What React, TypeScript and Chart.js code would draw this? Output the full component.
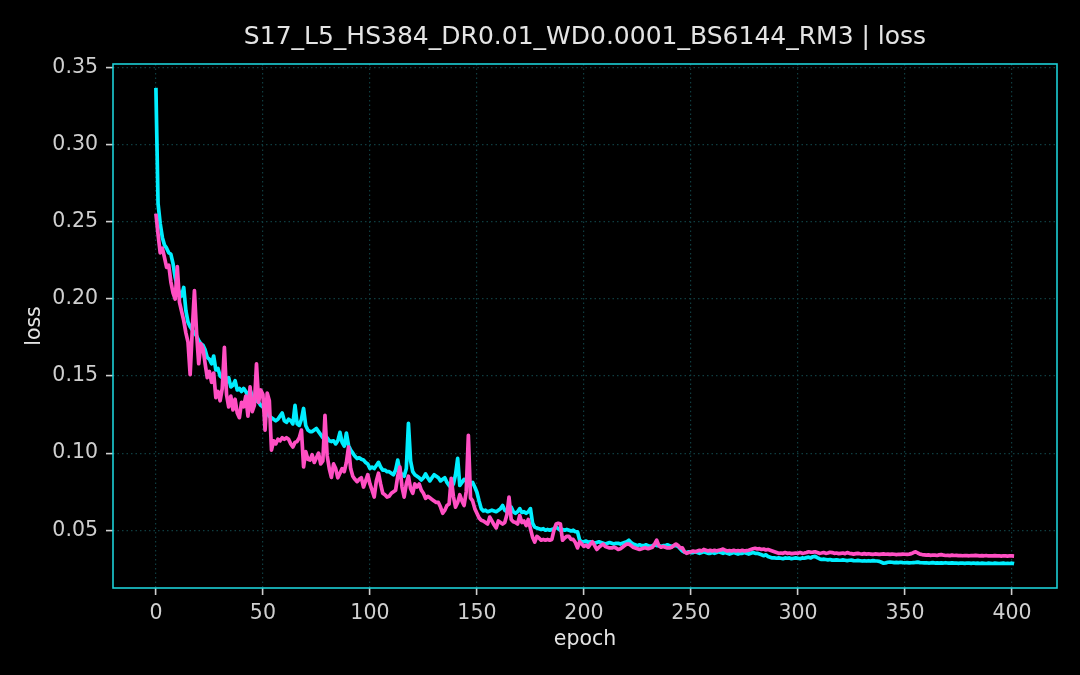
import { useEffect, useRef } from 'react';
import { Chart, registerables } from 'chart.js';

Chart.register(...registerables);

const TITLE = 'S17_L5_HS384_DR0.01_WD0.0001_BS6144_RM3 | loss';
const X_TICKS = [0, 50, 100, 150, 200, 250, 300, 350, 400];
const Y_TICKS = [0.05, 0.1, 0.15, 0.2, 0.25, 0.3, 0.35];

// cyan curve, one value per epoch (0..401)
const TRAIN_LOSS = [
  0.337, 0.262, 0.249, 0.240, 0.235, 0.233, 0.230, 0.229, 0.223, 0.214,
  0.208, 0.204, 0.202, 0.2075, 0.1925, 0.185, 0.182, 0.180, 0.178, 0.176,
  0.173, 0.171, 0.170, 0.167, 0.162, 0.161, 0.158, 0.163, 0.154, 0.155,
  0.150, 0.149, 0.147, 0.146, 0.149, 0.143, 0.144, 0.147, 0.141, 0.142,
  0.140, 0.142, 0.140, 0.137, 0.141, 0.137, 0.135, 0.134, 0.133, 0.131,
  0.130, 0.128, 0.126, 0.124, 0.123, 0.122, 0.121, 0.122, 0.124, 0.126,
  0.121, 0.120, 0.122, 0.121, 0.119, 0.131, 0.119, 0.118, 0.122, 0.129,
  0.118, 0.115, 0.114, 0.114, 0.115, 0.116, 0.114, 0.112, 0.110, 0.111,
  0.110, 0.108, 0.1075, 0.108, 0.106, 0.108, 0.1135, 0.107, 0.1045, 0.113,
  0.105, 0.102, 0.100, 0.098, 0.0965, 0.097, 0.096, 0.0955, 0.094, 0.093,
  0.090, 0.091, 0.090, 0.092, 0.094, 0.091, 0.089, 0.089, 0.088, 0.088,
  0.087, 0.086, 0.089, 0.0955, 0.088, 0.086, 0.085, 0.090, 0.1193, 0.095,
  0.088, 0.086, 0.085, 0.084, 0.0826, 0.084, 0.0865, 0.084, 0.082, 0.084,
  0.086, 0.085, 0.084, 0.082, 0.083, 0.084, 0.081, 0.079, 0.0775, 0.080,
  0.086, 0.0966, 0.079, 0.081, 0.083, 0.082, 0.081, 0.080, 0.081, 0.078,
  0.0746, 0.069, 0.064, 0.0625, 0.063, 0.062, 0.0625, 0.063, 0.0625, 0.062,
  0.063, 0.064, 0.066, 0.063, 0.062, 0.0625, 0.065, 0.062, 0.061, 0.062,
  0.064, 0.0615, 0.062, 0.061, 0.062, 0.064, 0.0545, 0.052, 0.0515, 0.051,
  0.0505, 0.051, 0.050, 0.0505, 0.050, 0.0505, 0.051, 0.052, 0.051, 0.050,
  0.0505, 0.050, 0.0505, 0.050, 0.0495, 0.050, 0.049, 0.049, 0.0435, 0.0425,
  0.0425, 0.043, 0.042, 0.0425, 0.042, 0.0415, 0.042, 0.0425, 0.042, 0.0415,
  0.041, 0.0415, 0.042, 0.0415, 0.041, 0.0415, 0.0415, 0.041, 0.0415, 0.042,
  0.0425, 0.0435, 0.042, 0.041, 0.0405, 0.040, 0.0405, 0.040, 0.040, 0.0405,
  0.040, 0.0395, 0.040, 0.0405, 0.040, 0.040, 0.0395, 0.040, 0.040, 0.0405,
  0.040, 0.0395, 0.040, 0.040, 0.0395, 0.038, 0.0365, 0.0357, 0.0355, 0.036,
  0.0355, 0.0355, 0.036, 0.0355, 0.035, 0.0355, 0.036, 0.0355, 0.035, 0.035,
  0.0355, 0.035, 0.0355, 0.036, 0.0355, 0.035, 0.0355, 0.035, 0.0345, 0.035,
  0.0355, 0.035, 0.0345, 0.035, 0.035, 0.0355, 0.035, 0.0345, 0.035, 0.0355,
  0.035, 0.035, 0.0345, 0.034, 0.0335, 0.034, 0.033, 0.0325, 0.032, 0.032,
  0.0318, 0.032, 0.0318, 0.0315, 0.032, 0.0318, 0.032, 0.0315, 0.0318, 0.032,
  0.0318, 0.0315, 0.032, 0.0318, 0.0322, 0.0325, 0.032, 0.0328, 0.033, 0.0322,
  0.0315, 0.031, 0.0312, 0.031, 0.0308, 0.031, 0.0306, 0.0306, 0.0308, 0.0306,
  0.0305, 0.0307, 0.0305, 0.0303, 0.0305, 0.0306, 0.0303, 0.0302, 0.0304, 0.0302,
  0.030, 0.0302, 0.030, 0.0302, 0.030, 0.0303, 0.0301, 0.030, 0.0298, 0.0292,
  0.0286, 0.0288, 0.0292, 0.0293, 0.0292, 0.029, 0.0291, 0.029, 0.0292, 0.029,
  0.0289, 0.029, 0.0288, 0.0289, 0.029, 0.0291, 0.0293, 0.029, 0.0289, 0.0288,
  0.0289, 0.0287, 0.0288, 0.029, 0.0287, 0.0288, 0.0286, 0.0288, 0.0287, 0.0289,
  0.0287, 0.0286, 0.0288, 0.0286, 0.0287, 0.0285, 0.0287, 0.0286, 0.0285, 0.0287,
  0.0286, 0.0285, 0.0287, 0.0285, 0.0286, 0.0284, 0.0286, 0.0285, 0.0284, 0.0286,
  0.0285, 0.0284, 0.0286, 0.0285, 0.0284, 0.0285, 0.0286, 0.0284, 0.0285, 0.0284,
  0.0286, 0.0283,
];

// pink curve, one value per epoch (0..401)
const VAL_LOSS = [
  0.2554, 0.242, 0.230, 0.233, 0.227, 0.2205, 0.222, 0.211, 0.204, 0.200,
  0.221, 0.198, 0.192, 0.186, 0.178, 0.172, 0.151, 0.180, 0.2055, 0.178,
  0.158, 0.171, 0.168, 0.158, 0.149, 0.153, 0.146, 0.152, 0.136, 0.140,
  0.134, 0.142, 0.1686, 0.138, 0.130, 0.137, 0.128, 0.135, 0.126, 0.123,
  0.133, 0.130, 0.137, 0.124, 0.143, 0.127, 0.131, 0.158, 0.133, 0.141,
  0.138, 0.115, 0.139, 0.134, 0.102, 0.108, 0.106, 0.109, 0.108, 0.110,
  0.109, 0.110, 0.109, 0.106, 0.104, 0.107, 0.1076, 0.110, 0.115, 0.091,
  0.101, 0.096, 0.0955, 0.099, 0.094, 0.097, 0.100, 0.093, 0.095, 0.1245,
  0.0985, 0.090, 0.0843, 0.093, 0.090, 0.084, 0.087, 0.090, 0.088, 0.094,
  0.104, 0.090, 0.085, 0.083, 0.0815, 0.083, 0.084, 0.078, 0.082, 0.086,
  0.080, 0.076, 0.0715, 0.082, 0.087, 0.080, 0.074, 0.073, 0.0715, 0.072,
  0.074, 0.075, 0.076, 0.085, 0.091, 0.078, 0.0715, 0.080, 0.085, 0.077,
  0.074, 0.080, 0.078, 0.080, 0.076, 0.074, 0.0707, 0.072, 0.071, 0.070,
  0.069, 0.068, 0.068, 0.065, 0.061, 0.063, 0.066, 0.067, 0.0837, 0.072,
  0.065, 0.068, 0.073, 0.069, 0.066, 0.075, 0.1116, 0.071, 0.069, 0.064,
  0.061, 0.058, 0.0565, 0.056, 0.055, 0.054, 0.0585, 0.056, 0.0535, 0.0515,
  0.056, 0.055, 0.054, 0.055, 0.060, 0.0715, 0.057, 0.0555, 0.055, 0.054,
  0.0595, 0.055, 0.056, 0.053, 0.057, 0.051, 0.0455, 0.0423, 0.046, 0.045,
  0.0435, 0.044, 0.0435, 0.044, 0.0435, 0.044, 0.050, 0.054, 0.0545, 0.054,
  0.0435, 0.045, 0.046, 0.046, 0.044, 0.044, 0.042, 0.0385, 0.0425, 0.041,
  0.0395, 0.0403, 0.039, 0.041, 0.0425, 0.040, 0.0375, 0.039, 0.040, 0.041,
  0.0395, 0.039, 0.0385, 0.0385, 0.039, 0.0385, 0.0375, 0.038, 0.039, 0.040,
  0.041, 0.041, 0.040, 0.039, 0.0385, 0.038, 0.0375, 0.038, 0.0385, 0.0385,
  0.038, 0.0385, 0.039, 0.041, 0.0435, 0.040, 0.039, 0.0395, 0.039, 0.0385,
  0.0385, 0.039, 0.040, 0.041, 0.040, 0.0385, 0.0385, 0.036, 0.035, 0.0355,
  0.036, 0.0365, 0.036, 0.0365, 0.037, 0.0365, 0.0375, 0.037, 0.0365, 0.037,
  0.0365, 0.037, 0.0365, 0.037, 0.0372, 0.0378, 0.037, 0.0365, 0.0368, 0.0365,
  0.037, 0.0365, 0.0368, 0.0365, 0.037, 0.0365, 0.0368, 0.037, 0.0375, 0.038,
  0.0383, 0.0378, 0.038, 0.0375, 0.0378, 0.0372, 0.0375, 0.037, 0.0365, 0.036,
  0.0355, 0.035, 0.0352, 0.035, 0.0355, 0.035, 0.0352, 0.0348, 0.035, 0.0352,
  0.035, 0.0355, 0.035, 0.0352, 0.0355, 0.036, 0.0357, 0.0358, 0.036, 0.0355,
  0.035, 0.0352, 0.0355, 0.035, 0.0352, 0.0357, 0.0355, 0.035, 0.0352, 0.0348,
  0.035, 0.0352, 0.0348, 0.0355, 0.035, 0.0348, 0.0345, 0.0348, 0.035, 0.0347,
  0.0345, 0.0348, 0.0345, 0.0347, 0.0345, 0.0343, 0.0346, 0.0345, 0.0343, 0.0345,
  0.0346, 0.0344, 0.0345, 0.0343, 0.0345, 0.0344, 0.0342, 0.0344, 0.0343, 0.0345,
  0.0344, 0.0343, 0.0345, 0.0348, 0.0355, 0.036, 0.0352, 0.0345, 0.0342, 0.034,
  0.0338, 0.034, 0.0337, 0.0339, 0.0338, 0.0336, 0.034, 0.0342, 0.0338, 0.0336,
  0.0337, 0.0335, 0.0338, 0.0336, 0.0337, 0.0335, 0.0336, 0.0334, 0.0336, 0.0335,
  0.0334, 0.0336, 0.0335, 0.0337, 0.0335, 0.0333, 0.0335, 0.0334, 0.0336, 0.0333,
  0.0334, 0.0333, 0.0335, 0.0333, 0.0334, 0.0332, 0.0334, 0.0333, 0.0332, 0.0334,
  0.0333, 0.0332,
];

const CYAN = '#00eeff';
const PINK = '#ff4fc3';
const FRAME = '#1ccfd6';
const GRID = '#0f3d40';
const TEXT = '#e4e4e4';
const TICK = '#cfcfcf';

const bgPlugin = {
  id: 'bg',
  beforeDraw(chart: Chart) {
    const { ctx, width, height } = chart;
    ctx.save();
    ctx.fillStyle = '#000';
    ctx.fillRect(0, 0, width, height);
    ctx.restore();
  },
};

// frame round the plot area, plus the title centred over the plot area (as matplotlib does)
const framePlugin = {
  id: 'frame',
  afterDatasetsDraw(chart: Chart) {
    const { ctx, chartArea: a } = chart;
    ctx.save();
    ctx.strokeStyle = FRAME;
    ctx.lineWidth = 1.6;
    ctx.strokeRect(a.left, a.top, a.right - a.left, a.bottom - a.top);
    ctx.fillStyle = TEXT;
    ctx.font = '25px "DejaVu Sans", sans-serif';
    ctx.textAlign = 'center';
    ctx.textBaseline = 'middle';
    ctx.fillText(TITLE, (a.left + a.right) / 2, 37);
    ctx.restore();
  },
};

export default function App() {
  const canvasRef = useRef<HTMLCanvasElement>(null);

  useEffect(() => {
    document.body.style.margin = '0';
    document.body.style.background = '#000';
    if (!canvasRef.current) return;
    Chart.defaults.font.family = '"DejaVu Sans", sans-serif';

    const chart = new Chart(canvasRef.current, {
      type: 'line',
      data: {
        datasets: [
          {
            label: 'val',
            data: VAL_LOSS.map((y, i) => ({ x: i, y })),
            borderColor: PINK,
            borderWidth: 3.7,
            pointRadius: 0,
            tension: 0,
            borderJoinStyle: 'round',
            order: 0,
          },
          {
            label: 'train',
            data: TRAIN_LOSS.map((y, i) => ({ x: i, y })),
            borderColor: CYAN,
            borderWidth: 3.7,
            pointRadius: 0,
            tension: 0,
            borderJoinStyle: 'round',
            order: 1,
          },
        ],
      },
      options: {
        responsive: false,
        animation: false,
        layout: { padding: { top: 64, left: 0, right: 23, bottom: 0 } },
        plugins: {
          legend: { display: false },
          tooltip: { enabled: false },
          title: { display: false },
        },
        scales: {
          x: {
            type: 'linear',
            min: -20.05,
            max: 421.05,
            afterBuildTicks: (s: any) => { s.ticks = X_TICKS.map(v => ({ value: v })); },
            afterFit: (s: any) => { s.height = 87; },
            ticks: {
              color: TICK, font: { size: 20.5 }, padding: 6,
              maxRotation: 0, autoSkip: false,
              callback: (v: any) => String(v),
            },
            grid: { color: GRID, lineWidth: 1.2, tickColor: TICK, tickLength: 7, tickWidth: 1.6 },
            border: { display: false, dash: [1.5, 3] },
            title: {
              display: true, text: 'epoch', color: TEXT,
              font: { size: 20.5 }, padding: { top: 0, bottom: 23 },
            },
          },
          y: {
            type: 'linear',
            min: 0.0125,
            max: 0.3525,
            afterBuildTicks: (s: any) => { s.ticks = Y_TICKS.map(v => ({ value: v })); },
            afterFit: (s: any) => { s.width = 113; },
            ticks: {
              color: TICK, font: { size: 20.5 }, padding: 8,
              callback: (v: any) => Number(v).toFixed(2),
            },
            grid: { color: GRID, lineWidth: 1.2, tickColor: TICK, tickLength: 7, tickWidth: 1.6 },
            border: { display: false, dash: [1.5, 3] },
            title: {
              display: true, text: 'loss', color: TEXT,
              font: { size: 20.5 }, padding: { top: 22, bottom: 0 },
            },
          },
        },
      },
      plugins: [bgPlugin, framePlugin],
    });

    return () => { chart.destroy(); };
  }, []);

  return (
    <div style={{ width: 1080, height: 675, background: '#000' }}>
      <canvas ref={canvasRef} width={1080} height={675} />
    </div>
  );
}
